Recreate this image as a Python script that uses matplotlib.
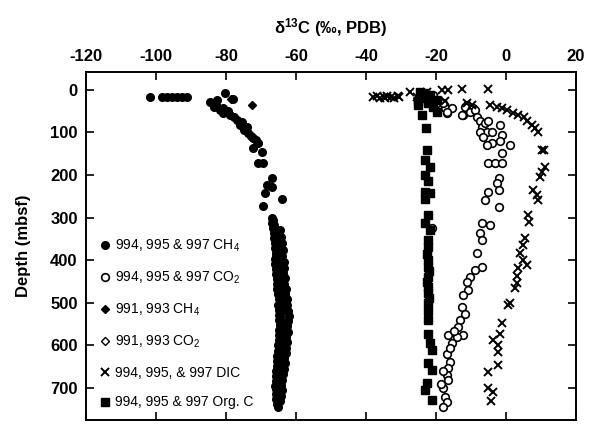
import matplotlib as mpl
import matplotlib.pyplot as plt

mpl.rcParams.update({
    "font.family": ["Liberation Sans", "DejaVu Sans"],
    "mathtext.default": "regular",
    "axes.linewidth": 1.4,
    "axes.unicode_minus": False,
})

# 994, 995 & 997 CH4 (filled circles)
ch4_x = [-101.7, -98.3, -96.9, -95.4, -94.0, -92.6, -91.1,
         -82.6, -80.3, -78.0, -84.6, -83.0, -81.7, -80.8, -78.9, -76.9, -76.0,
         -75.0, -73.7, -72.3, -71.0, -72.3, -69.7, -71.0, -69.4, -66.9, -68.3,
         -68.9, -64.0, -69.4, -66.9,
         -83.5, -81.0, -79.5, -77.8, -75.5, -74.0, -73.0, -71.5,
         # deep column, left side
         -66.8, -66.5, -66.9, -66.2, -66.6, -66.0, -66.4, -65.8, -66.3, -65.7,
         -66.0, -65.5, -65.9, -65.3, -65.8, -65.6, -66.1, -65.4, -65.9, -65.2,
         -65.7, -65.3, -65.6, -65.0, -65.4, -65.1, -65.5, -64.9, -65.3, -64.8,
         -65.2, -64.7, -65.0, -64.6, -65.1, -64.5, -64.9, -64.4, -64.8, -64.5,
         -64.9, -64.3, -64.7, -64.4, -64.8, -64.5, -64.9, -64.6, -65.0, -64.7,
         -65.1, -64.8, -65.2, -64.9, -65.3, -65.0, -65.4, -65.1, -65.5, -65.2,
         -65.6, -65.3, -65.7, -65.4, -65.8, -65.5, -65.9, -65.6, -65.4, -65.7,
         -65.3, -65.6, -65.2, -65.5, -65.1,
         # deep column, right side
         -64.5, -64.2, -64.0, -63.8, -64.1, -63.5, -63.3, -63.6, -63.2, -63.4,
         -62.9, -63.1, -62.7, -62.5, -62.2, -62.0, -62.4, -62.6, -62.3, -62.8,
         -62.5, -62.9, -63.0, -63.3, -63.1, -63.5, -63.7, -63.9, -64.2, -64.0,
         -64.4, -64.6]
ch4_d = [17, 17, 17, 17, 17, 17, 17,
         23, 8, 21, 28, 35, 47, 55, 59, 70, 82,
         94, 102, 113, 125, 136, 145, 172, 172, 207, 223,
         242, 256, 272, 229,
         40, 42, 50, 64, 76, 88, 108, 118,
         300, 306, 312, 318, 324, 330, 336, 342, 348, 354,
         360, 366, 372, 378, 384, 390, 396, 402, 408, 414,
         420, 426, 432, 438, 444, 450, 456, 462, 468, 474,
         480, 486, 492, 498, 504, 510, 516, 522, 528, 534,
         540, 546, 552, 558, 564, 570, 576, 582, 588, 594,
         600, 606, 612, 618, 624, 630, 636, 642, 648, 654,
         660, 666, 672, 678, 684, 690, 696, 702, 708, 714,
         720, 726, 732, 738, 744,
         330, 345, 360, 375, 390, 405, 418, 430, 442, 455,
         468, 480, 492, 505, 518, 530, 542, 555, 568, 580,
         592, 605, 618, 630, 642, 655, 668, 680, 692, 705,
         718, 730]

# 994, 995 & 997 CO2 (open circles)
co2_x = [-20.3, -18.9, -17.5, -17.0, -15.5, -12.2, -11.2, -9.3,
         -20.8, -19.8, -17.9, -17.0, -12.7, -11.7, -10.3, -8.9, -8.4, -7.4,
         -7.0, -6.0, -5.1, -5.5, -7.4, -6.5, -4.1, -1.7, -1.2, -1.7, -4.1,
         -5.5, 1.1, -1.2, -5.1, -3.2, -1.2, -2.0, -2.7, -2.0, -5.1, -6.0,
         -1.9, -7.0, -4.6, -7.4, -7.0, -8.4, -7.0, -8.9, -10.3, -11.2,
         -10.8, -12.2, -12.7, -11.7, -13.1, -13.6, -12.2, -14.1, -16.5,
         -15.5, -17.0, -16.0, -16.5, -17.0, -16.5, -17.9, -17.4, -17.0,
         -17.9, -21.2, -15.0, -18.5, -16.0, -18.0]
co2_d = [31, 39, 43, 55, 43, 59, 35, 43,
         12, 31, 31, 51, 59, 39, 51, 47, 63, 74,
         86, 78, 74, 98, 98, 110, 98, 82, 106, 121, 125,
         129, 129, 149, 172, 172, 172, 207, 219, 235, 239, 258,
         274, 313, 317, 337, 352, 384, 415, 423, 439, 450,
         470, 482, 509, 525, 540, 556, 576, 580, 576,
         595, 619, 638, 654, 670, 681, 701, 720, 732,
         744, 325, 566, 690, 607, 660]

# 991, 993 CH4 (filled diamonds)
ch4_b_x = [-72.6, -78.5]
ch4_b_d = [35, 22]

# 991, 993 CO2 (open diamonds)
co2_b_x = [-25.5, -21.0]
co2_b_d = [20, 28]

# 994, 995, & 997 DIC (crosses)
dic_x = [-38.0, -37.0, -36.0, -35.0, -34.5, -34.0, -33.0, -32.0, -31.0, -30.5,
         -27.4, -22.7, -18.4, -16.5, -12.7, -5.1, -17.4, -11.2, -9.8, -25.5,
         -4.6, -2.7, -1.2, 0.2, 2.1, 3.5, 5.0, 5.9, 7.3, 8.3, 9.2,
         10.2, 10.8, 11.1, 10.2, 9.7, 7.8, 8.8, 9.0, 6.4, 6.7, 5.4, 4.8,
         4.0, 4.9, 5.9, 3.5, 3.0, 3.0, 2.6, 1.1, 0.7, -1.2, -1.7, -3.6,
         -2.2, -2.2, -2.2, -5.1, -5.1, -3.8, -4.4]
dic_d = [17, 15, 18, 16, 19, 15, 17, 18, 14, 17,
         4, 4, 0, 0, -3, -3, 27, 31, 35, 16,
         35, 39, 43, 47, 55, 59, 63, 74, 82, 90, 98,
         141, 141, 180, 192, 204, 235, 247, 258, 294, 309, 348, 364,
         384, 399, 411, 419, 438, 454, 466, 500, 505, 548, 572, 587,
         599, 615, 646, 662, 701, 709, 730]

# 994, 995 & 997 Org. C (filled squares)
orgc_x = [-24.6, -23.1, -21.7, -23.6, -25.1, -19.8, -20.8, -19.8, -22.2,
          -25.1, -24.1, -22.9, -22.7, -23.2, -21.7, -23.2, -22.2, -23.2,
          -21.7, -23.2, -22.2, -23.2, -21.7, -22.2, -22.2, -22.2, -22.2,
          -22.2, -22.2, -22.2, -22.2, -22.2, -22.2, -21.7, -21.2, -22.2,
          -21.2, -22.7, -23.2, -21.2, -22.5, -22.0, -22.6, -21.9, -22.4]
orgc_d = [4, 8, 12, 20, 27, 23, 39, 51, 31,
          35, 59, 90, 141, 164, 180, 200, 215, 239,
          243, 255, 294, 313, 329, 352, 368, 399, 415,
          439, 462, 478, 501, 540, 572, 595, 611, 642,
          658, 689, 705, 728, 386, 425, 450, 488, 520]

LEGEND_LABELS = [
    "994, 995 & 997 CH$_4$",
    "994, 995 & 997 CO$_2$",
    "991, 993 CH$_4$",
    "991, 993 CO$_2$",
    "994, 995, & 997 DIC",
    "994, 995 & 997 Org. C",
]


def main() -> None:
    fig = plt.figure(figsize=(5.92, 4.24), dpi=100)
    ax = fig.add_axes([86 / 592, 4 / 424, 490 / 592, 348 / 424])

    h1, = ax.plot(ch4_x, ch4_d, ls="none", marker="o", ms=5.5, color="black")
    h2, = ax.plot(co2_x, co2_d, ls="none", marker="o", ms=5.5, mfc="white",
                  mec="black", mew=1.2)
    h3, = ax.plot(ch4_b_x, ch4_b_d, ls="none", marker="D", ms=4.5, color="black")
    h4, = ax.plot(co2_b_x, co2_b_d, ls="none", marker="D", ms=4, mfc="white",
                  mec="black", mew=1.0)
    h5, = ax.plot(dic_x, dic_d, ls="none", marker="x", ms=5.5, mew=1.4, color="black")
    h6, = ax.plot(orgc_x, orgc_d, ls="none", marker="s", ms=5.5, color="black")

    ax.set_xlim(-120, 20)
    ax.set_ylim(775, -42)
    ax.set_xticks(range(-120, 21, 20))
    ax.set_yticks(range(0, 701, 100))
    ax.tick_params(direction="in", top=True, right=True, bottom=True, left=True,
                   labeltop=True, labelbottom=False, length=6, width=1.2,
                   labelsize=12, pad=6)
    for lab in ax.get_xticklabels() + ax.get_yticklabels():
        lab.set_fontweight("bold")

    ax.xaxis.set_label_position("top")
    ax.set_xlabel("δ$^{13}$C (‰, PDB)", fontsize=12, fontweight="bold", labelpad=11)
    ax.set_ylabel("Depth (mbsf)", fontsize=12, fontweight="bold", labelpad=14)

    ax.legend([h1, h2, h3, h4, h5, h6], LEGEND_LABELS, loc="upper left",
              bbox_to_anchor=(0.03, 0.523), frameon=False, fontsize=10,
              handlelength=0.6, handletextpad=0.4, labelspacing=1.12,
              borderpad=0, borderaxespad=0)

    fig.savefig("out.png", dpi=100)


if __name__ == "__main__":
    main()
